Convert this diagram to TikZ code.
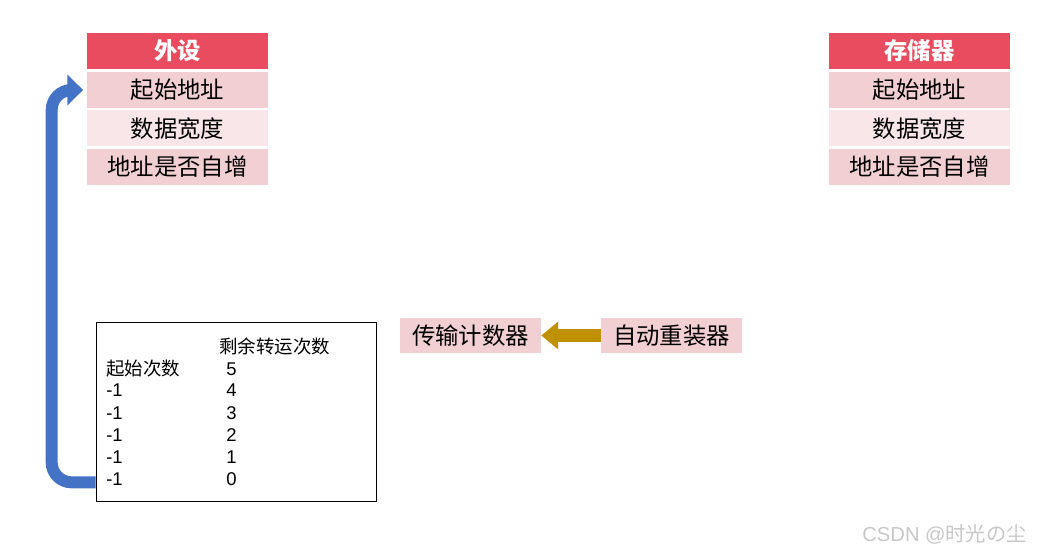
\documentclass[tikz,border=0pt]{standalone}
\usepackage{fontspec}
\setmainfont{Liberation Sans}
\newfontfamily\cjk{Noto Sans CJK SC}
\usepackage{tikz}
\usetikzlibrary{arrows.meta,positioning,calc}
\definecolor{headred}{HTML}{E84C5E}
\definecolor{rowpink}{HTML}{F2CFD3}
\definecolor{rowlight}{HTML}{F9E6E8}
\definecolor{arrgold}{HTML}{BF9000}
\definecolor{arrblue}{HTML}{4472C4}

\begin{document}
\begin{tikzpicture}[
  x=0.02cm, y=-0.02cm,
  cell/.style={inner sep=0pt, minimum width=3.62cm, minimum height=0.72cm, font=\cjk\fontsize{13.3}{15}\selectfont, fill=#1},
  head/.style={cell=headred, text=white, font=\cjk\bfseries\fontsize{13.3}{15}\selectfont},
  reg/.style={inner sep=0pt, minimum width=2.82cm, minimum height=0.7cm, font=\cjk\fontsize{13.3}{15}\selectfont, fill=rowpink},
  small/.style={inner sep=0pt, anchor=base west, font=\cjk\fontsize{10.5}{12}\selectfont},
  num/.style={inner sep=0pt, anchor=base west, font=\fontsize{10.5}{12}\selectfont},
  goldarr/.style={-{Triangle[length=9.6pt, width=15.3pt]}, line width=7.9pt, arrgold},
  bluearr/.style={-{Triangle[length=9pt, width=17pt]}, line width=6.8pt, arrblue, rounded corners=0.4cm}
]
\useasboundingbox (0,0) rectangle (1054,553);

% peripheral side
\node[head] (phead) at (177.5, 51) {外设};
\node[cell=rowpink] (pstart) at (177.5, 90) {起始地址};
\node[cell=rowlight] (pwidth) at (177.5, 128.5) {数据宽度};
\node[cell=rowpink] (pinc) at (177.5, 167) {地址是否自增};

% memory side
\node[head] (mhead) at (919.5, 51) {存储器};
\node[cell=rowpink] (mstart) at (919.5, 90) {起始地址};
\node[cell=rowlight] (mwidth) at (919.5, 128.5) {数据宽度};
\node[cell=rowpink] (minc) at (919.5, 167) {地址是否自增};

% counter and reload
\node[reg] (counter) at (470.5, 335.5) {传输计数器};
\node[reg] (reload) at (671.5, 335.5) {自动重装器};
\draw[goldarr] (reload.west) -- (counter.east);

% count table
\node[draw, thin, minimum width=5.6cm, minimum height=3.58cm] (cnt) at (236, 411.5) {};
\node[small] (lrest) at (219, 354) {剩余转运次数};
\node[small] (lstart) at (106, 376) {起始次数};
\node[num] (n5) at (226, 376) {5};
\node[num] (d1) at (106, 397) {-1};
\node[num] (n4) at (226, 397) {4};
\node[num] (d2) at (106, 419) {-1};
\node[num] (n3) at (226, 419) {3};
\node[num] (d3) at (106, 441) {-1};
\node[num] (n2) at (226, 441) {2};
\node[num] (d4) at (106, 463) {-1};
\node[num] (n1) at (226, 463) {1};
\node[num] (d5) at (106, 485) {-1};
\node[num] (n0) at (226, 485) {0};

\draw[bluearr] ([yshift=0.38cm]cnt.south west) -| ($(pstart.west)+(-35,0)$) -- ([xshift=-2pt]pstart.west);

\node[inner sep=0pt, anchor=base west, text=black!22, font=\fontsize{11.5}{13}\selectfont] (mark) at (862, 541) {CSDN @{\cjk 时光の尘}};

\end{tikzpicture}
\end{document}
